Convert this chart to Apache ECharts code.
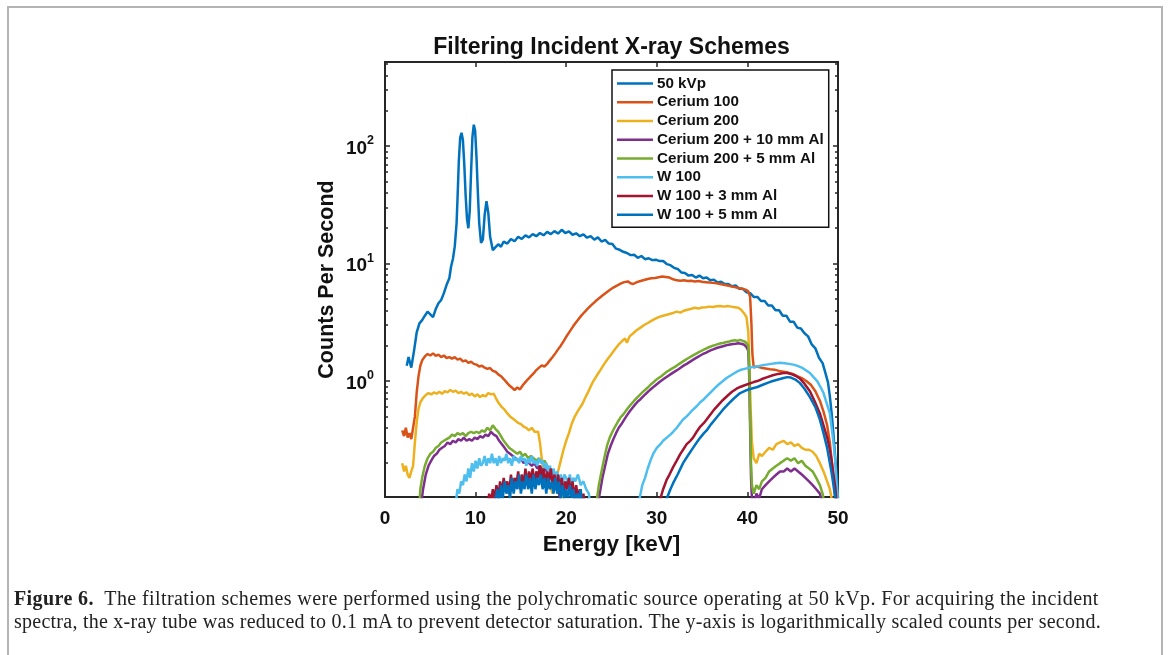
<!DOCTYPE html>
<html>
<head>
<meta charset="utf-8">
<script src="https://cdn.jsdelivr.net/npm/echarts@6/dist/echarts.min.js"></script>
<style>
  html, body { margin: 0; padding: 0; background: #fff; }
  #wrap { position: relative; width: 1168px; height: 655px; overflow: hidden; background: #fff; }
  #chart { position: absolute; left: 0; top: 0; width: 1168px; height: 655px; }
  #frame { position: absolute; left: 7px; top: 6px; width: 1152px; height: 700px; border: 2px solid #b4b4b4; pointer-events: none; }
  .cap { position: absolute; left: 14px; font-family: 'Liberation Serif', 'DejaVu Serif', serif; font-size: 20px; line-height: 23px; color: #222; white-space: nowrap; }
  #cap1 { top: 587px; letter-spacing: 0.4px; }
  #cap2 { top: 610px; letter-spacing: 0.25px; }
  .cap b { font-weight: bold; }
</style>
</head>
<body>
<div id="wrap">
  <div id="chart"></div>
  <div id="frame"></div>
  <div class="cap" id="cap1"><b>Figure 6.</b>&nbsp; The filtration schemes were performed using the polychromatic source operating at 50 kVp. For acquiring the incident</div>
  <div class="cap" id="cap2">spectra, the x-ray tube was reduced to 0.1 mA to prevent detector saturation. The y-axis is logarithmically scaled counts per second.</div>
</div>
<script>
// ---------- data (energy keV, counts per second) ----------
const seriesNames = ['50 kVp', 'Cerium 100', 'Cerium 200', 'Cerium 200 + 10 mm Al', 'Cerium 200 + 5 mm Al', 'W 100', 'W 100 + 3 mm Al', 'W 100 + 5 mm Al'];
const seriesColors = ['#0072BD', '#D95319', '#EDB120', '#7E2F8E', '#77AC30', '#4DBEEE', '#A2142F', '#0072BD'];

const xTicks = [0, 10, 20, 30, 40, 50];
const yMajorTicks = [1, 10, 100];
const yMinorTicks = [0.2,0.3,0.4,0.5,0.6,0.7,0.8,0.9,2,3,4,5,6,7,8,9,20,30,40,50,60,70,80,90,200,300,400,500];

const kvp50 = [[2.4,1.35],[2.6,1.6],[2.9,1.3],[3.2,1.8],[3.5,2.6],[3.8,3.1],[4.1,3.3],[4.4,3.6],[4.7,3.9],[5.0,3.7],[5.3,3.5],[5.6,4.1],[5.9,4.6],[6.2,4.9],[6.5,5.6],[6.8,6.6],[7.1,7.5],[7.3,9.5],[7.5,11],[7.7,14],[7.9,22],[8.0,35],[8.15,75],[8.3,118],[8.45,130],[8.6,112],[8.75,70],[8.9,38],[9.05,24],[9.2,20],[9.35,28],[9.5,60],[9.65,120],[9.8,152],[9.95,135],[10.1,80],[10.25,40],[10.4,22],[10.6,15],[10.8,16],[11.0,26],[11.2,34],[11.4,27],[11.6,17],[11.9,13],[12.2,13.8],[12.5,14.6],[12.8,13.9],[13.1,15.4],[13.5,14.8],[13.9,16.2],[14.3,15.5],[14.7,16.9],[15.1,16.2],[15.5,17.4],[15.9,16.7],[16.3,17.8],[16.7,17.1],[17.1,18.2],[17.5,17.4],[17.9,18.6],[18.3,17.8],[18.7,18.9],[19.1,18.0],[19.5,19.4],[19.9,18.2],[20.3,18.8],[20.7,17.6],[21.1,18.1],[21.5,17.1],[21.9,17.7],[22.3,16.6],[22.7,17.1],[23.1,16.0],[23.5,16.7],[23.9,15.4],[24.3,15.9],[24.7,14.8],[25.1,14.7],[25.5,13.4],[25.9,13.1],[26.3,12.6],[26.7,12.3],[27.1,11.8],[27.5,11.9],[27.9,11.2],[28.3,11.6],[28.7,10.9],[29.1,11.1],[29.5,10.7],[29.9,10.8],[30.3,10.5],[30.7,10.5],[31.1,9.9],[31.5,9.7],[31.9,9.2],[32.3,9.0],[32.7,8.4],[33.1,8.3],[33.5,7.9],[33.9,8.0],[34.3,7.6],[34.7,7.9],[35.1,7.5],[35.5,7.6],[35.9,7.2],[36.3,7.3],[36.7,6.9],[37.1,7.0],[37.5,6.7],[37.9,6.7],[38.3,6.4],[38.7,6.5],[39.1,6.1],[39.5,6.1],[39.9,5.7],[40.3,5.6],[40.7,5.2],[41.1,5.2],[41.5,4.8],[41.9,4.8],[42.3,4.4],[42.7,4.4],[43.1,4.0],[43.5,4.0],[43.9,3.6],[44.3,3.6],[44.7,3.2],[45.1,3.2],[45.5,2.85],[45.9,2.8],[46.3,2.55],[46.7,2.4],[47.1,2.05],[47.5,1.9],[47.9,1.58],[48.3,1.42],[48.6,1.18],[48.9,0.97],[49.1,0.74],[49.3,0.53],[49.5,0.35],[49.7,0.22],[49.9,0.14],[50,0.1]];

const cerium100 = [[1.9,0.38],[2.1,0.34],[2.3,0.4],[2.5,0.33],[2.7,0.36],[2.9,0.32],[3.1,0.4],[3.3,0.5],[3.5,0.8],[3.7,1.1],[3.9,1.35],[4.1,1.5],[4.4,1.62],[4.7,1.7],[5.0,1.65],[5.3,1.72],[5.6,1.64],[5.9,1.68],[6.2,1.6],[6.5,1.65],[6.8,1.57],[7.1,1.6],[7.4,1.55],[7.7,1.6],[8.0,1.52],[8.3,1.55],[8.6,1.47],[8.9,1.5],[9.2,1.43],[9.5,1.46],[9.8,1.4],[10.1,1.38],[10.4,1.33],[10.7,1.35],[11.0,1.3],[11.3,1.27],[11.6,1.29],[11.9,1.22],[12.2,1.2],[12.5,1.14],[12.8,1.1],[13.1,1.04],[13.4,0.98],[13.7,0.92],[14.0,0.88],[14.3,0.84],[14.6,0.88],[14.9,0.85],[15.2,0.92],[15.5,0.98],[15.8,1.04],[16.1,1.1],[16.4,1.16],[16.7,1.24],[17.0,1.3],[17.3,1.36],[17.6,1.33],[17.9,1.4],[18.2,1.5],[18.5,1.6],[18.8,1.72],[19.1,1.86],[19.4,2.0],[19.7,2.18],[20.0,2.38],[20.4,2.65],[20.8,2.95],[21.2,3.25],[21.6,3.55],[22.0,3.85],[22.4,4.15],[22.8,4.45],[23.2,4.75],[23.6,5.05],[24.0,5.35],[24.4,5.65],[24.8,5.95],[25.2,6.25],[25.6,6.5],[26.0,6.75],[26.4,6.95],[26.8,7.05],[27.1,6.8],[27.4,6.7],[27.8,6.95],[28.2,7.1],[28.6,7.25],[29.0,7.4],[29.4,7.5],[29.8,7.55],[30.2,7.65],[30.6,7.75],[31.0,7.7],[31.4,7.6],[31.8,7.35],[32.2,7.2],[32.6,7.15],[33.0,7.2],[33.4,7.1],[33.8,7.15],[34.2,7.05],[34.6,7.1],[35.0,7.0],[35.4,6.95],[35.8,6.9],[36.2,6.85],[36.6,6.8],[37.0,6.7],[37.4,6.6],[37.8,6.5],[38.2,6.4],[38.6,6.3],[39.0,6.2],[39.4,6.1],[39.8,6.0],[40.1,5.8],[40.3,5.2],[40.45,3.0],[40.55,1.7],[40.7,1.3],[41.0,1.33],[41.5,1.3],[42.0,1.28],[42.5,1.26],[43.0,1.25],[43.5,1.22],[44.0,1.2],[44.5,1.18],[45.0,1.15],[45.5,1.1],[46.0,1.06],[46.5,1.0],[47.0,0.93],[47.5,0.82],[48.0,0.68],[48.4,0.55],[48.8,0.42],[49.1,0.3],[49.3,0.21],[49.5,0.15],[49.7,0.1],[49.8,0.08]];

const cerium200 = [[1.9,0.2],[2.1,0.17],[2.3,0.19],[2.5,0.16],[2.7,0.15],[2.9,0.17],[3.1,0.19],[3.3,0.3],[3.5,0.45],[3.7,0.58],[3.9,0.66],[4.2,0.72],[4.5,0.76],[4.8,0.79],[5.1,0.77],[5.4,0.8],[5.7,0.78],[6.0,0.81],[6.3,0.78],[6.6,0.82],[6.9,0.8],[7.2,0.84],[7.5,0.81],[7.8,0.83],[8.1,0.79],[8.4,0.81],[8.7,0.78],[9.0,0.8],[9.3,0.76],[9.6,0.78],[9.9,0.74],[10.2,0.77],[10.5,0.73],[10.8,0.76],[11.1,0.74],[11.4,0.79],[11.7,0.77],[12.0,0.78],[12.3,0.7],[12.6,0.64],[12.9,0.6],[13.2,0.57],[13.5,0.53],[13.8,0.5],[14.1,0.48],[14.4,0.46],[14.7,0.44],[15.0,0.43],[15.3,0.41],[15.6,0.4],[15.9,0.38],[16.2,0.4],[16.5,0.37],[16.9,0.37],[17.1,0.3],[17.3,0.22],[17.5,0.17],[17.7,0.14],[17.9,0.12],[18.2,0.13],[18.5,0.11],[18.8,0.14],[19.1,0.17],[19.4,0.21],[19.7,0.26],[20.0,0.31],[20.3,0.36],[20.6,0.43],[20.9,0.49],[21.2,0.54],[21.5,0.59],[21.8,0.64],[22.1,0.72],[22.4,0.8],[22.7,0.9],[23.0,1.0],[23.4,1.12],[23.8,1.25],[24.2,1.4],[24.6,1.55],[25.0,1.7],[25.4,1.87],[25.8,2.05],[26.2,2.2],[26.5,2.3],[26.7,2.12],[27.0,2.4],[27.4,2.55],[27.8,2.72],[28.2,2.85],[28.6,3.0],[29.0,3.12],[29.4,3.25],[29.8,3.38],[30.2,3.5],[30.6,3.58],[31.0,3.65],[31.4,3.72],[31.8,3.8],[32.2,3.9],[32.6,3.82],[33.0,3.97],[33.4,4.05],[33.8,4.12],[34.2,4.2],[34.6,4.15],[35.0,4.22],[35.4,4.25],[35.8,4.3],[36.2,4.27],[36.6,4.33],[37.0,4.35],[37.4,4.3],[37.8,4.35],[38.2,4.3],[38.6,4.25],[39.0,4.2],[39.3,4.05],[39.6,3.8],[39.9,3.5],[40.1,2.6],[40.25,1.2],[40.35,0.6],[40.5,0.3],[40.7,0.22],[41.0,0.2],[41.3,0.24],[41.6,0.23],[42.0,0.25],[42.4,0.27],[42.8,0.26],[43.2,0.29],[43.6,0.3],[44.0,0.31],[44.4,0.29],[44.8,0.3],[45.2,0.28],[45.6,0.29],[46.0,0.27],[46.4,0.26],[46.8,0.26],[47.2,0.25],[47.6,0.23],[48.0,0.2],[48.4,0.17],[48.8,0.14],[49.1,0.12],[49.3,0.1]];

const cerium200al10 = [[4.0,0.09],[4.2,0.12],[4.5,0.16],[4.8,0.19],[5.1,0.21],[5.4,0.23],[5.7,0.24],[6.0,0.26],[6.3,0.27],[6.6,0.28],[6.9,0.3],[7.2,0.29],[7.5,0.31],[7.8,0.3],[8.1,0.32],[8.4,0.31],[8.7,0.33],[9.0,0.31],[9.3,0.32],[9.6,0.31],[9.9,0.33],[10.2,0.32],[10.5,0.34],[10.8,0.33],[11.1,0.35],[11.4,0.34],[11.7,0.37],[12.0,0.35],[12.3,0.34],[12.6,0.31],[12.9,0.29],[13.2,0.27],[13.5,0.25],[13.8,0.24],[14.1,0.23],[14.4,0.22],[14.7,0.21],[15.0,0.22],[15.3,0.2],[15.6,0.21],[15.9,0.2],[16.2,0.19],[16.5,0.2],[16.8,0.18],[17.1,0.19],[17.4,0.17],[17.7,0.18],[18.0,0.16],[18.3,0.15],[18.6,0.14],[18.9,0.12],[19.2,0.11],[19.5,0.09],[19.8,0.07],[21.0,0.05],[23.0,0.05],[23.5,0.09],[23.7,0.11],[24.0,0.15],[24.3,0.19],[24.6,0.24],[24.9,0.28],[25.2,0.32],[25.5,0.36],[25.8,0.4],[26.1,0.43],[26.4,0.47],[26.7,0.51],[27.0,0.55],[27.3,0.59],[27.6,0.63],[27.9,0.67],[28.2,0.7],[28.5,0.74],[28.8,0.78],[29.1,0.82],[29.4,0.86],[29.7,0.9],[30.0,0.94],[30.3,0.98],[30.6,1.02],[30.9,1.06],[31.2,1.1],[31.5,1.14],[31.8,1.18],[32.1,1.22],[32.4,1.26],[32.7,1.31],[33.0,1.36],[33.3,1.4],[33.6,1.45],[33.9,1.5],[34.2,1.55],[34.5,1.6],[34.8,1.65],[35.1,1.7],[35.4,1.74],[35.7,1.79],[36.0,1.83],[36.3,1.87],[36.6,1.91],[36.9,1.94],[37.2,1.97],[37.5,2.0],[37.8,2.03],[38.1,2.05],[38.4,2.07],[38.7,2.08],[39.0,2.1],[39.3,2.08],[39.6,2.05],[39.9,1.95],[40.1,1.8],[40.2,1.1],[40.3,0.4],[40.4,0.15],[40.5,0.1],[40.7,0.09],[41.0,0.11],[41.3,0.1],[41.6,0.12],[42.0,0.13],[42.4,0.14],[42.8,0.15],[43.2,0.16],[43.6,0.17],[44.0,0.17],[44.4,0.18],[44.8,0.17],[45.2,0.18],[45.6,0.17],[46.0,0.16],[46.4,0.15],[46.8,0.14],[47.2,0.13],[47.6,0.12],[48.0,0.11],[48.3,0.09]];

const cerium200al5 = [[3.8,0.09],[3.9,0.12],[4.1,0.15],[4.4,0.19],[4.7,0.22],[5.0,0.24],[5.3,0.25],[5.6,0.27],[5.9,0.28],[6.2,0.3],[6.5,0.31],[6.8,0.32],[7.1,0.33],[7.4,0.35],[7.7,0.34],[8.0,0.36],[8.3,0.35],[8.6,0.36],[8.9,0.34],[9.2,0.36],[9.5,0.37],[9.8,0.36],[10.1,0.37],[10.4,0.36],[10.7,0.38],[11.0,0.37],[11.3,0.4],[11.6,0.38],[11.9,0.42],[12.2,0.39],[12.5,0.37],[12.8,0.34],[13.1,0.31],[13.4,0.29],[13.7,0.27],[14.0,0.26],[14.3,0.25],[14.6,0.24],[14.9,0.25],[15.2,0.23],[15.5,0.24],[15.8,0.22],[16.1,0.23],[16.4,0.22],[16.7,0.21],[17.0,0.22],[17.3,0.2],[17.6,0.21],[17.9,0.19],[18.2,0.18],[18.5,0.17],[18.8,0.16],[19.1,0.14],[19.4,0.12],[19.7,0.1],[20.0,0.085],[21.5,0.05],[23.0,0.06],[23.4,0.1],[23.6,0.13],[23.9,0.17],[24.2,0.22],[24.5,0.28],[24.8,0.33],[25.1,0.37],[25.4,0.41],[25.7,0.45],[26.0,0.49],[26.3,0.52],[26.6,0.56],[26.9,0.6],[27.2,0.64],[27.5,0.68],[27.8,0.72],[28.1,0.76],[28.4,0.8],[28.7,0.84],[29.0,0.88],[29.3,0.93],[29.6,0.97],[29.9,1.02],[30.2,1.06],[30.5,1.1],[30.8,1.15],[31.1,1.2],[31.4,1.24],[31.7,1.28],[32.0,1.32],[32.3,1.37],[32.6,1.42],[32.9,1.47],[33.2,1.52],[33.5,1.57],[33.8,1.62],[34.1,1.67],[34.4,1.72],[34.7,1.77],[35.0,1.82],[35.3,1.87],[35.6,1.92],[35.9,1.96],[36.2,2.0],[36.5,2.03],[36.8,2.07],[37.1,2.1],[37.4,2.12],[37.7,2.15],[38.0,2.17],[38.3,2.2],[38.6,2.22],[38.9,2.2],[39.2,2.24],[39.5,2.2],[39.8,2.15],[40.1,2.0],[40.2,1.3],[40.3,0.5],[40.4,0.2],[40.5,0.13],[40.7,0.11],[41.0,0.13],[41.3,0.12],[41.6,0.14],[42.0,0.15],[42.4,0.17],[42.8,0.18],[43.2,0.19],[43.6,0.2],[44.0,0.21],[44.4,0.22],[44.8,0.21],[45.2,0.22],[45.6,0.2],[46.0,0.21],[46.4,0.19],[46.8,0.18],[47.2,0.17],[47.6,0.15],[48.0,0.13],[48.3,0.11],[48.5,0.09]];

const w100 = [[7.8,0.09],[8.0,0.12],[8.2,0.11],[8.4,0.14],[8.6,0.13],[8.8,0.16],[9.0,0.14],[9.2,0.18],[9.4,0.15],[9.6,0.2],[9.8,0.17],[10.0,0.21],[10.2,0.18],[10.4,0.22],[10.6,0.19],[10.8,0.2],[11.0,0.23],[11.2,0.19],[11.4,0.22],[11.6,0.2],[11.8,0.24],[12.0,0.2],[12.2,0.22],[12.4,0.19],[12.6,0.23],[12.8,0.2],[13.0,0.22],[13.2,0.21],[13.4,0.24],[13.6,0.2],[13.8,0.22],[14.0,0.19],[14.2,0.23],[14.4,0.21],[14.6,0.22],[14.8,0.2],[15.0,0.23],[15.2,0.21],[15.4,0.22],[15.6,0.19],[15.8,0.22],[16.0,0.2],[16.2,0.23],[16.4,0.2],[16.6,0.21],[16.8,0.19],[17.0,0.22],[17.2,0.2],[17.4,0.21],[17.6,0.18],[17.8,0.2],[18.0,0.17],[18.2,0.19],[18.4,0.16],[18.6,0.18],[18.8,0.15],[19.0,0.17],[19.2,0.14],[19.4,0.16],[19.6,0.13],[19.8,0.16],[20.0,0.15],[20.2,0.13],[20.4,0.16],[20.6,0.13],[20.8,0.15],[21.0,0.14],[21.3,0.16],[21.6,0.13],[21.9,0.14],[22.2,0.12],[22.5,0.11],[22.7,0.08],[23.0,0.05],[27.5,0.05],[28.1,0.1],[28.4,0.13],[28.7,0.15],[29.0,0.18],[29.3,0.21],[29.6,0.24],[30.0,0.27],[30.4,0.29],[30.7,0.31],[31.1,0.33],[31.5,0.35],[31.8,0.37],[32.2,0.4],[32.6,0.44],[32.9,0.47],[33.3,0.5],[33.7,0.54],[34.0,0.57],[34.4,0.61],[34.8,0.66],[35.2,0.7],[35.5,0.74],[36.0,0.81],[36.4,0.87],[36.8,0.93],[37.3,1.0],[37.7,1.06],[38.1,1.11],[38.5,1.16],[38.9,1.21],[39.2,1.24],[39.7,1.27],[40.2,1.3],[40.7,1.32],[41.1,1.33],[41.6,1.36],[42.1,1.38],[42.6,1.4],[43.1,1.42],[43.6,1.43],[44.1,1.42],[44.6,1.4],[45.1,1.38],[45.6,1.34],[46.0,1.3],[46.5,1.23],[46.9,1.17],[47.3,1.08],[47.7,1.0],[48.1,0.88],[48.4,0.79],[48.8,0.63],[49.1,0.53],[49.3,0.4],[49.5,0.3],[49.7,0.21],[49.8,0.15],[49.9,0.12],[50,0.09]];

const w100al3 = [[11.3,0.08],[11.5,0.11],[11.7,0.09],[11.9,0.12],[12.1,0.1],[12.3,0.13],[12.5,0.1],[12.7,0.14],[12.9,0.11],[13.1,0.15],[13.3,0.12],[13.5,0.14],[13.7,0.11],[13.9,0.16],[14.1,0.12],[14.3,0.15],[14.5,0.13],[14.7,0.17],[14.9,0.12],[15.1,0.16],[15.3,0.13],[15.5,0.18],[15.7,0.13],[15.9,0.17],[16.1,0.14],[16.3,0.18],[16.5,0.13],[16.7,0.17],[16.9,0.15],[17.1,0.19],[17.3,0.14],[17.5,0.18],[17.7,0.13],[17.9,0.17],[18.1,0.14],[18.3,0.18],[18.5,0.13],[18.7,0.16],[18.9,0.12],[19.1,0.16],[19.3,0.12],[19.5,0.15],[19.7,0.11],[19.9,0.14],[20.1,0.12],[20.3,0.15],[20.5,0.11],[20.7,0.14],[20.9,0.1],[21.1,0.13],[21.3,0.1],[21.5,0.12],[21.7,0.09],[21.9,0.11],[22.1,0.08],[22.4,0.1],[22.6,0.05],[30.0,0.05],[30.4,0.1],[30.7,0.12],[31.1,0.145],[31.4,0.16],[31.8,0.185],[32.2,0.21],[32.6,0.24],[32.9,0.26],[33.3,0.29],[33.7,0.31],[34.0,0.33],[34.4,0.37],[34.8,0.41],[35.2,0.44],[35.5,0.47],[36.0,0.53],[36.4,0.58],[36.9,0.64],[37.3,0.69],[37.8,0.75],[38.3,0.81],[38.8,0.86],[39.2,0.89],[39.7,0.92],[40.2,0.95],[40.7,0.98],[41.1,1.0],[41.6,1.04],[42.2,1.08],[42.8,1.12],[43.4,1.15],[44.0,1.17],[44.4,1.17],[44.8,1.15],[45.3,1.11],[45.8,1.05],[46.3,0.95],[46.9,0.82],[47.4,0.68],[48.0,0.53],[48.4,0.42],[48.8,0.33],[49.1,0.26],[49.3,0.21],[49.5,0.16],[49.7,0.125],[49.8,0.1],[49.9,0.08]];

const w100al5 = [[12.0,0.07],[12.2,0.1],[12.4,0.12],[12.6,0.09],[12.8,0.13],[13.0,0.1],[13.2,0.14],[13.4,0.11],[13.6,0.13],[13.8,0.1],[14.0,0.15],[14.2,0.11],[14.4,0.14],[14.6,0.12],[14.8,0.16],[15.0,0.11],[15.2,0.14],[15.4,0.12],[15.6,0.16],[15.8,0.12],[16.0,0.15],[16.2,0.11],[16.4,0.16],[16.6,0.12],[16.8,0.15],[17.0,0.13],[17.2,0.16],[17.4,0.12],[17.6,0.15],[17.8,0.11],[18.0,0.15],[18.2,0.12],[18.4,0.14],[18.6,0.11],[18.8,0.15],[19.0,0.11],[19.2,0.14],[19.4,0.1],[19.6,0.13],[19.8,0.1],[20.0,0.12],[20.2,0.1],[20.4,0.13],[20.6,0.1],[20.8,0.12],[21.0,0.09],[21.2,0.11],[21.4,0.1],[21.6,0.12],[21.8,0.08],[22.0,0.1],[22.2,0.05],[30.8,0.06],[31.1,0.1],[31.5,0.12],[31.8,0.135],[32.3,0.16],[32.9,0.2],[33.4,0.23],[34.0,0.27],[34.4,0.3],[34.8,0.33],[35.2,0.36],[35.5,0.38],[36.0,0.43],[36.6,0.49],[37.3,0.57],[37.9,0.64],[38.5,0.71],[39.2,0.79],[39.8,0.83],[40.4,0.86],[41.1,0.89],[41.7,0.93],[42.3,0.97],[42.8,1.0],[43.4,1.03],[44.0,1.06],[44.4,1.08],[44.8,1.07],[45.3,1.03],[45.8,0.96],[46.3,0.86],[46.9,0.73],[47.5,0.6],[48.0,0.47],[48.4,0.36],[48.8,0.27],[49.1,0.2],[49.3,0.165],[49.5,0.13],[49.7,0.1],[49.8,0.08]];

const seriesData = [kvp50, cerium100, cerium200, cerium200al10, cerium200al5, w100, w100al3, w100al5];

// ---------- chart ----------
const FONT = "'Liberation Sans', Arial, Helvetica, sans-serif";
const AX = '#262626';
const yMin = 0.103, yMax = 520;

const chart = echarts.init(document.getElementById('chart'), null, { renderer: 'canvas' });

function yAxisDef(pos, ticks, len, showLabel, name) {
  return {
    type: 'log', logBase: 10, min: yMin, max: yMax, position: pos,
    name: name || '', nameLocation: 'middle', nameGap: 47,
    nameTextStyle: { fontFamily: FONT, fontWeight: 'bold', fontSize: 21.5, color: '#111' },
    axisLine: { show: true, lineStyle: { color: AX, width: 2 } },
    axisTick: { show: true, inside: true, length: len, lineStyle: { color: AX, width: 1.5 }, customValues: ticks },
    axisLabel: showLabel ? {
      show: true, margin: 11, customValues: ticks,
      formatter: v => '{b|10}{s|' + Math.round(Math.log10(v)) + '}',
      rich: {
        b: { fontFamily: FONT, fontWeight: 'bold', fontSize: 19, color: '#111', lineHeight: 24, verticalAlign: 'bottom' },
        s: { fontFamily: FONT, fontWeight: 'bold', fontSize: 12.5, color: '#111', lineHeight: 24, verticalAlign: 'top' }
      }
    } : { show: false },
    splitLine: { show: false }, minorTick: { show: false }
  };
}

function xAxisDef(pos, showLabel) {
  return {
    type: 'value', min: 0, max: 50, interval: 10, position: pos,
    name: showLabel ? 'Energy [keV]' : '', nameLocation: 'middle', nameGap: 29,
    nameTextStyle: { fontFamily: FONT, fontWeight: 'bold', fontSize: 22.5, color: '#111' },
    axisLine: { show: true, lineStyle: { color: AX, width: 2 } },
    axisTick: { show: true, inside: true, length: 5, lineStyle: { color: AX, width: 1.5 }, customValues: xTicks },
    axisLabel: showLabel ? { show: true, margin: 12, fontFamily: FONT, fontWeight: 'bold', fontSize: 19, color: '#111', customValues: xTicks } : { show: false },
    splitLine: { show: false }
  };
}

const option = {
  animation: false,
  backgroundColor: '#fff',
  grid: { left: 385, right: 330, top: 62, bottom: 158, containLabel: false },
  graphic: [{
    type: 'text', x: 611.5, y: 48,
    style: { text: 'Filtering Incident X-ray Schemes', font: "bold 23px " + FONT, fill: '#111', textAlign: 'center', textVerticalAlign: 'middle' }
  }],
  legend: {
    orient: 'vertical', left: 612, top: 70,
    data: seriesNames,
    icon: 'rect', itemWidth: 36, itemHeight: 2.5, itemGap: 3.75,
    padding: [6, 5, 5, 5],
    borderColor: '#111', borderWidth: 1.5, backgroundColor: '#fff',
    textStyle: { fontFamily: FONT, fontWeight: 'bold', fontSize: 15.2, color: '#111', padding: [0, 0, 0, -1] },
    selectedMode: false
  },
  xAxis: [xAxisDef('bottom', true), xAxisDef('top', false)],
  yAxis: [
    yAxisDef('left', yMajorTicks, 5, true, 'Counts Per Second'),
    yAxisDef('left', yMinorTicks, 3, false),
    yAxisDef('right', yMajorTicks, 5, false),
    yAxisDef('right', yMinorTicks, 3, false)
  ],
  series: seriesNames.map((n, i) => ({
    name: n, type: 'line', xAxisIndex: 0, yAxisIndex: 0,
    data: seriesData[i], showSymbol: false, symbol: 'none',
    clip: true, smooth: false,
    lineStyle: { color: seriesColors[i], width: 2.5 },
    itemStyle: { color: seriesColors[i] },
    emphasis: { disabled: true }
  }))
};
chart.setOption(option);
</script>
</body>
</html>
